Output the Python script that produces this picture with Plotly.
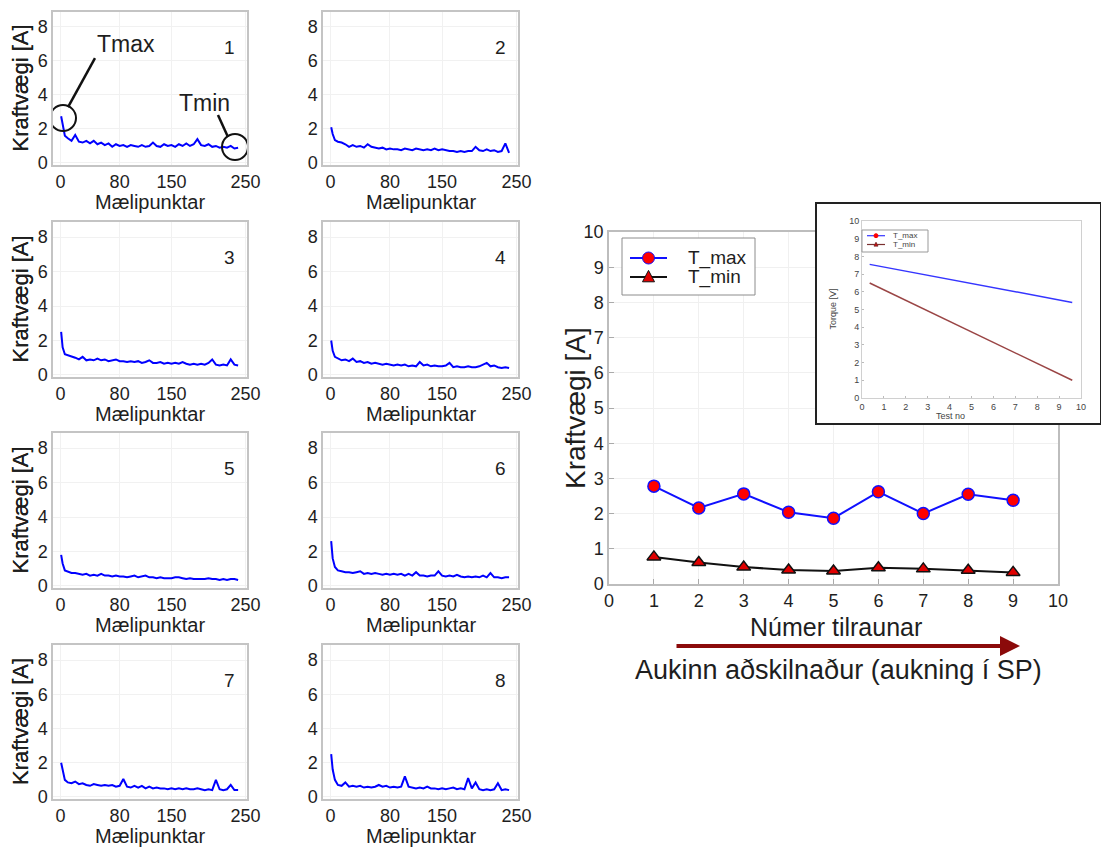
import plotly.graph_objects as go

W, H = 1101, 850
FONT = "Liberation Sans, Arial, sans-serif"
TXT = "#1e1e1e"

# ---------------- data: small panels (Kraftvægi vs Mælipunktar) ----------------
meas_x = [1, 3, 6, 10, 15, 20, 25, 30, 35, 40, 45, 50, 55, 60, 65, 70, 75, 80, 85, 90,
          95, 100, 105, 110, 115, 120, 125, 130, 135, 140, 145, 150, 155, 160, 165, 170,
          175, 180, 185, 190, 195, 200, 205, 210, 215, 220, 225, 230, 235, 240]

torque_1 = [2.75, 2.2, 1.6, 1.45, 1.3, 1.65, 1.25, 1.2, 1.3, 1.15, 1.3, 1.1, 1.2, 1.05, 1.15,
            0.95, 1.1, 1.0, 1.05, 0.95, 1.05, 1.0, 0.95, 1.05, 0.95, 1.0, 1.2, 1.0, 0.95, 1.1,
            1.0, 1.05, 0.95, 1.1, 1.0, 1.15, 1.0, 1.1, 1.4, 1.05, 1.0, 1.1, 0.95, 1.0, 0.9,
            0.95, 0.9, 1.0, 0.85, 0.9]
torque_2 = [2.1, 1.7, 1.35, 1.25, 1.2, 1.1, 0.95, 1.05, 0.95, 1.0, 0.9, 1.1, 0.95, 0.9, 0.85,
            0.9, 0.8, 0.85, 0.8, 0.8, 0.75, 0.85, 0.8, 0.75, 0.85, 0.8, 0.75, 0.8, 0.75, 0.85,
            0.75, 0.8, 0.75, 0.7, 0.7, 0.65, 0.7, 0.65, 0.7, 0.7, 0.95, 0.75, 0.7, 0.8, 0.7,
            0.75, 0.65, 0.7, 1.15, 0.6]
torque_3 = [2.5, 1.6, 1.2, 1.15, 1.05, 1.0, 0.9, 1.05, 0.85, 0.9, 0.85, 0.95, 0.85, 0.9, 0.8,
            0.85, 0.9, 0.8, 0.8, 0.75, 0.8, 0.75, 0.8, 0.7, 0.75, 0.85, 0.7, 0.7, 0.75, 0.65,
            0.7, 0.65, 0.7, 0.65, 0.75, 0.65, 0.6, 0.65, 0.6, 0.65, 0.6, 0.7, 0.9, 0.6, 0.55,
            0.6, 0.55, 0.9, 0.6, 0.55]
torque_4 = [2.0, 1.4, 1.05, 0.95, 0.85, 0.9, 0.8, 0.95, 0.75, 0.8, 0.7, 0.75, 0.65, 0.7, 0.65,
            0.6, 0.65, 0.6, 0.55, 0.6, 0.55, 0.6, 0.5, 0.55, 0.5, 0.75, 0.55, 0.6, 0.5, 0.55,
            0.5, 0.5, 0.55, 0.7, 0.45, 0.5, 0.45, 0.45, 0.5, 0.45, 0.45, 0.5, 0.6, 0.7, 0.5,
            0.55, 0.45, 0.4, 0.45, 0.4]
torque_5 = [1.8, 1.3, 0.9, 0.85, 0.75, 0.75, 0.7, 0.65, 0.7, 0.6, 0.65, 0.6, 0.7, 0.6, 0.6,
            0.55, 0.6, 0.55, 0.55, 0.5, 0.55, 0.6, 0.5, 0.55, 0.6, 0.5, 0.5, 0.45, 0.5, 0.45,
            0.45, 0.45, 0.5, 0.5, 0.45, 0.4, 0.45, 0.4, 0.4, 0.4, 0.4, 0.45, 0.4, 0.4, 0.35,
            0.4, 0.35, 0.4, 0.4, 0.35]
torque_6 = [2.6, 1.6, 1.1, 0.9, 0.85, 0.8, 0.8, 0.75, 0.8, 0.85, 0.7, 0.75, 0.7, 0.75, 0.7,
            0.65, 0.7, 0.65, 0.7, 0.65, 0.7, 0.6, 0.7, 0.6, 0.8, 0.6, 0.6, 0.55, 0.6, 0.6,
            0.85, 0.6, 0.55, 0.6, 0.55, 0.65, 0.55, 0.5, 0.55, 0.5, 0.55, 0.5, 0.6, 0.5, 0.75,
            0.5, 0.5, 0.45, 0.5, 0.5]
torque_7 = [2.0, 1.5, 1.0, 0.85, 0.8, 0.9, 0.75, 0.8, 0.7, 0.65, 0.75, 0.7, 0.65, 0.7, 0.65,
            0.7, 0.6, 0.65, 1.05, 0.6, 0.55, 0.65, 0.55, 0.65, 0.5, 0.6, 0.5, 0.55, 0.5, 0.5,
            0.45, 0.5, 0.45, 0.5, 0.45, 0.5, 0.45, 0.45, 0.5, 0.45, 0.4, 0.45, 0.4, 1.0, 0.45,
            0.4, 0.45, 0.7, 0.4, 0.4]
torque_8 = [2.5, 1.6, 1.0, 0.7, 0.65, 0.85, 0.6, 0.65, 0.6, 0.65, 0.55, 0.6, 0.55, 0.6, 0.7,
            0.6, 0.65, 0.55, 0.6, 0.55, 0.6, 1.2, 0.6, 0.55, 0.5, 0.55, 0.5, 0.6, 0.5, 0.5,
            0.45, 0.5, 0.45, 0.5, 0.55, 0.45, 0.5, 0.45, 1.1, 0.5, 0.85, 0.45, 0.4, 0.45, 0.4,
            0.45, 0.8, 0.4, 0.45, 0.4]
panel_series = [torque_1, torque_2, torque_3, torque_4, torque_5, torque_6, torque_7, torque_8]
panel_labels = ["1", "2", "3", "4", "5", "6", "7", "8"]
small_xticks = [0, 80, 150, 250]
small_yticks = [0, 2, 4, 6, 8]

# ---------------- data: main chart ----------------
trial_no = [1, 2, 3, 4, 5, 6, 7, 8, 9]
t_max = [2.78, 2.16, 2.56, 2.04, 1.87, 2.62, 2.0, 2.55, 2.38]
t_min = [0.77, 0.61, 0.48, 0.40, 0.37, 0.46, 0.43, 0.39, 0.33]
main_ticks = [0, 1, 2, 3, 4, 5, 6, 7, 8, 9, 10]
series_names = ["T_max", "T_min"]

# ---------------- data: inset ----------------
inset_x = [0.35, 9.6]
inset_tmax = [7.55, 5.4]
inset_tmin = [6.5, 1.0]


def px(x):
    return x / W


def py(y):
    return 1 - y / H


fig = go.Figure()
layout = dict(
    width=W, height=H, margin=dict(l=0, r=0, t=0, b=0, autoexpand=False),
    paper_bgcolor="white", plot_bgcolor="white",
    font=dict(family=FONT, color=TXT),
    showlegend=False,
)
annotations = []
shapes = []


def manual_legend(box, rows, line_x, text_x, styles, names, fsize, fcolor, msize, border):
    """Legend drawn as paper shapes: box=(l,t,r,b) in px; rows = y centers in px."""
    l, t, r, b = box
    shapes.append(dict(type="rect", xref="paper", yref="paper", x0=px(l), x1=px(r),
                       y0=py(b), y1=py(t), line=dict(color=border, width=1),
                       fillcolor="white", layer="above"))
    for yy, (lc, lw, sym, mc, mlc), nm in zip(rows, styles, names):
        shapes.append(dict(type="line", xref="paper", yref="paper", x0=px(line_x[0]),
                           x1=px(line_x[1]), y0=py(yy), y1=py(yy),
                           line=dict(color=lc, width=lw), layer="above"))
        xc = px((line_x[0] + line_x[1]) / 2)
        s = msize / 2.0
        if sym == "circle":
            shapes.append(dict(type="circle", xref="paper", yref="paper", xsizemode="pixel",
                               ysizemode="pixel", xanchor=xc, yanchor=py(yy),
                               x0=-s, x1=s, y0=-s, y1=s, fillcolor=mc,
                               line=dict(color=mlc, width=1), layer="above"))
        elif sym == "triangle":
            shapes.append(dict(type="path", xref="paper", yref="paper", xsizemode="pixel",
                               ysizemode="pixel", xanchor=xc, yanchor=py(yy),
                               path=f"M {-s},{-s * 0.8} L {s},{-s * 0.8} L 0,{s * 1.1} Z",
                               fillcolor=mc, line=dict(color=mlc, width=1), layer="above"))
        annotations.append(dict(text=nm, x=px(text_x), y=py(yy), xref="paper", yref="paper",
                                xanchor="left", yanchor="middle", showarrow=False,
                                font=dict(family=FONT, size=fsize, color=fcolor)))


# ---------- main chart (axis 1) ----------
M_L, M_R, M_T, M_B = 609, 1058, 232, 584
fig.add_trace(go.Scatter(
    x=trial_no, y=t_max, mode="lines+markers", name=series_names[0],
    line=dict(color="#1010ff", width=2),
    marker=dict(symbol="circle", size=12, color="#ff0000", line=dict(color="#1010ff", width=1.5)),
    xaxis="x", yaxis="y"))
fig.add_trace(go.Scatter(
    x=trial_no, y=t_min, mode="lines+markers", name=series_names[1],
    line=dict(color="#111111", width=2),
    marker=dict(symbol="triangle-up", size=12, color="#e00000", line=dict(color="#111111", width=1.5)),
    xaxis="x", yaxis="y"))
main_ax = dict(range=[0, 10], tickvals=main_ticks, showgrid=True, gridcolor="#f0f0f0",
               zeroline=False, showline=True, mirror=True, linecolor="#bdbdbd", linewidth=1.5,
               ticks="inside", ticklen=5, tickcolor="#aaaaaa",
               tickfont=dict(family=FONT, size=18, color=TXT))
layout["xaxis"] = dict(main_ax, domain=[px(M_L), px(M_R)], anchor="y")
layout["yaxis"] = dict(main_ax, domain=[py(M_B), py(M_T)], anchor="x")
manual_legend(box=(622, 238, 755, 295), rows=(258, 277), line_x=(630, 667), text_x=686,
              styles=[("#1010ff", 2, "circle", "#ff0000", "#1010ff"),
                      ("#111111", 2, "triangle", "#e00000", "#111111")],
              names=series_names, fsize=19, fcolor=TXT, msize=12, border="#8c8c8c")
annotations += [
    dict(text="Kraftvægi [A]", x=px(575), y=py((M_T + M_B) / 2), xref="paper", yref="paper",
         textangle=-90, showarrow=False, xanchor="center", yanchor="middle",
         font=dict(family=FONT, size=28, color=TXT)),
    dict(text="Númer tilraunar", x=px(836), y=py(627), xref="paper", yref="paper",
         showarrow=False, xanchor="center", yanchor="middle",
         font=dict(family=FONT, size=25, color=TXT)),
    dict(text="Aukinn aðskilnaður (aukning í SP)", x=px(838), y=py(670), xref="paper", yref="paper",
         showarrow=False, xanchor="center", yanchor="middle",
         font=dict(family=FONT, size=27, color=TXT)),
    dict(text="", x=px(1020), y=py(646), ax=-(1020 - 675), ay=0, xref="paper", yref="paper",
         axref="pixel", ayref="pixel", showarrow=True, arrowhead=2, arrowsize=1,
         arrowwidth=4, arrowcolor="#8b0a0a"),
]

# ---------- inset cover / frame (axis 2) ----------
C_L, C_R, C_T, C_B = 817, 1100, 204, 423
fig.add_trace(go.Scatter(x=[], y=[], xaxis="x2", yaxis="y2", showlegend=False, hoverinfo="skip"))
cover_ax = dict(range=[0, 1], showgrid=False, zeroline=False, showticklabels=False, ticks="",
                showline=True, mirror=True, linecolor="#222222", linewidth=2, fixedrange=True)
layout["xaxis2"] = dict(cover_ax, domain=[px(C_L), px(C_R)], anchor="y2")
layout["yaxis2"] = dict(cover_ax, domain=[py(C_B), py(C_T)], anchor="x2")

# ---------- inset plot (axis 3) ----------
I_L, I_R, I_T, I_B = 862, 1081, 221, 398
fig.add_trace(go.Scatter(x=inset_x, y=inset_tmax, mode="lines", name=series_names[0],
                         line=dict(color="#3535ff", width=1.5), xaxis="x3", yaxis="y3"))
fig.add_trace(go.Scatter(x=inset_x, y=inset_tmin, mode="lines", name=series_names[1],
                         line=dict(color="#9a4545", width=1.5), xaxis="x3", yaxis="y3"))
inset_ax = dict(range=[0, 10], tickvals=main_ticks, showgrid=False, zeroline=False,
                showline=True, mirror=True, linecolor="#d0d0d0", linewidth=1,
                ticks="inside", ticklen=2, tickcolor="#bbbbbb",
                tickfont=dict(family=FONT, size=9, color="#444444"))
layout["xaxis3"] = dict(inset_ax, domain=[px(I_L), px(I_R)], anchor="y3")
layout["yaxis3"] = dict(inset_ax, domain=[py(I_B), py(I_T)], anchor="x3")
manual_legend(box=(862, 230, 928, 252), rows=(235.7, 244.5), line_x=(867, 885), text_x=891,
              styles=[("#3535ff", 1.2, "circle", "#ff0000", "#ff0000"),
                      ("#7a3030", 1.2, "triangle", "#e00000", "#7a3030")],
              names=series_names, fsize=8, fcolor="#444444", msize=4, border="#999999")
annotations += [
    dict(text="Torque [V]", x=px(839), y=py((I_T + I_B) / 2), xref="paper", yref="paper",
         textangle=-90, showarrow=False, font=dict(family=FONT, size=9, color="#444444")),
    dict(text="Test no", x=px(967), y=py(416), xref="paper", yref="paper",
         showarrow=False, font=dict(family=FONT, size=9, color="#444444")),
]

# ---------- small panels (axes 4..11) ----------
cols = [(53, 247), (323, 518)]
rows = [(12, 165), (222, 377), (433, 588), (645, 799)]
for i, (series, lab) in enumerate(zip(panel_series, panel_labels)):
    n = 4 + i
    r, c = divmod(i, 2)
    L, R = cols[c]
    T, B = rows[r]
    fig.add_trace(go.Scatter(x=meas_x, y=series, mode="lines", showlegend=False,
                             line=dict(color="#0000ff", width=2),
                             xaxis=f"x{n}", yaxis=f"y{n}"))
    common = dict(showgrid=True, gridcolor="#f1f1f1", zeroline=False, showline=True,
                  mirror=True, linecolor="#c4c4c4", linewidth=1.5, ticks="",
                  tickfont=dict(family=FONT, size=18, color=TXT))
    layout[f"xaxis{n}"] = dict(common, range=[-10, 252], tickvals=small_xticks,
                               domain=[px(L), px(R)], anchor=f"y{n}")
    layout[f"yaxis{n}"] = dict(common, range=[-0.12, 8.88], tickvals=small_yticks,
                               domain=[py(B), py(T)], anchor=f"x{n}")
    annotations += [
        dict(text="Kraftvægi [A]", x=px(20), y=py((T + B) / 2), xref="paper", yref="paper",
             textangle=-90, showarrow=False, xanchor="center", yanchor="middle",
             font=dict(family=FONT, size=22, color=TXT)),
        dict(text="Mælipunktar", x=px((L + R) / 2), y=py(B + 37), xref="paper", yref="paper",
             showarrow=False, xanchor="center", yanchor="middle",
             font=dict(family=FONT, size=20, color=TXT)),
        dict(text=lab, x=0.912, y=0.77, xref=f"x{n} domain", yref=f"y{n} domain",
             showarrow=False, xanchor="center", yanchor="middle",
             font=dict(family=FONT, size=19, color=TXT)),
    ]

# Tmax / Tmin callouts on panel 1
annotations += [
    dict(text="Tmax", x=88, y=7.0, xref="x4", yref="y4", showarrow=False,
         font=dict(family=FONT, size=23, color=TXT)),
    dict(text="Tmin", x=195, y=3.53, xref="x4", yref="y4", showarrow=False,
         font=dict(family=FONT, size=23, color=TXT)),
]
shapes += [
    dict(type="circle", xref="x4", yref="y4", xsizemode="pixel", ysizemode="pixel",
         xanchor=3.5, yanchor=2.64, x0=-13, x1=13, y0=-13, y1=13,
         line=dict(color="#111111", width=2)),
    dict(type="circle", xref="x4", yref="y4", xsizemode="pixel", ysizemode="pixel",
         xanchor=235.8, yanchor=0.94, x0=-13, x1=13, y0=-13, y1=13,
         line=dict(color="#111111", width=2)),
    dict(type="line", xref="x4", yref="y4", x0=10.3, y0=3.29, x1=46.7, y1=6.17,
         line=dict(color="#111111", width=2.5)),
    dict(type="line", xref="x4", yref="y4", x0=212.8, y0=2.82, x1=226.3, y1=1.53,
         line=dict(color="#111111", width=2.5)),
]

layout["annotations"] = annotations
layout["shapes"] = shapes
fig.update_layout(**layout)

page_fix = ("document.documentElement.style.margin='0';document.body.style.margin='0';"
            "document.documentElement.style.overflow='hidden';document.body.style.overflow='hidden';"
            "var g=document.getElementById('{plot_id}');g.style.position='fixed';"
            "g.style.left='0px';g.style.top='0px';")
fig.write_html("out.html", post_script=page_fix)
